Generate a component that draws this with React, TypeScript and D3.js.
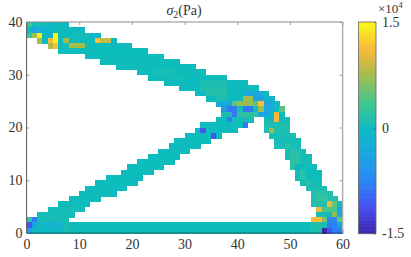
import React, { useRef, useEffect } from 'react';
import * as d3 from 'd3';

const W = 411;
const H = 257;

const xTicks = [0, 10, 20, 30, 40, 50, 60];
const yTicks = [0, 10, 20, 30, 40];
const barTicks = [-1.5, 0, 1.5];
const barTickLabels = ['-1.5', '0', '1.5'];

// colour levels of the bar, bottom to top
const parulaColors = ['#3e26a8', '#4750f0', '#2b86f5', '#1ca6e0', '#0dbbbf', '#45c78f', '#a3bd4e', '#fbb93a', '#f9fb15'];

// stress cells, [row, first col, end col, value in 1e4 Pa]; later entries overwrite earlier ones
const memberCells: number[][] = [
  // top chord
  [39, 0, 8, 0], [38, 0, 11, 0], [37, 0, 14, 0], [36, 2, 17, 0], [35, 4, 20, 0], [34, 6, 23, 0.02],
  [33, 11, 26, 0.02], [32, 14, 29, 0.03], [31, 17, 32, 0.03], [30, 21, 34, 0.03], [29, 23, 38, 0.03],
  [28, 26, 42, 0], [27, 29, 44, 0], [26, 32, 46, 0], [25, 34, 47, 0], [24, 36, 48, 0], [23, 37, 49, 0], [22, 37, 49, 0],
  [21, 36, 43, 0], [21, 45, 50, 0.06], [20, 33, 42, 0.02], [20, 45, 50, 0.1],
  // diagonal strut
  [19, 32, 40, 0.02], [19, 45, 50, 0.1], [18, 30, 37, 0.02], [18, 46, 51, 0.08],
  [17, 28, 35, 0.02], [17, 47, 52, 0.06], [16, 27, 33, 0.02], [16, 47, 52, 0.05],
  [15, 25, 31, 0.02], [15, 49, 53, 0.06], [14, 23, 29, 0.02], [14, 49, 54, 0.06],
  [13, 21, 28, 0.02], [13, 50, 54, 0.06], [12, 19, 26, 0.02], [12, 50, 55, 0.03],
  [11, 18, 24, 0.02], [11, 51, 56, 0.03], [10, 15, 22, 0.02], [10, 51, 56, 0.03],
  [9, 13, 21, 0.02], [9, 52, 56, 0.06], [8, 11, 19, 0.02], [8, 53, 57, 0.1],
  [7, 10, 17, 0.03], [7, 54, 58, 0.13], [6, 8, 14, 0.03], [6, 54, 59, 0.13],
  [5, 6, 12, 0.03], [5, 54, 60, 0.13], [4, 4, 11, 0.05], [4, 55, 60, 0.13],
  [3, 2, 9, 0.07], [3, 55, 60, 0.06], [2, 0, 8, 0.07], [2, 54, 60, 0.1],
  // bottom bar
  [1, 0, 60, 0.03], [0, 0, 60, 0.03],
  // greener patches along the top chord
  [30, 24, 28, 0.08], [29, 27, 30, 0.08], [28, 33, 38, 0.1], [27, 33, 38, 0.13], [26, 34, 38, 0.16], [25, 36, 38, 0.1],
  [37, 9, 12, 0.07],
  // top left corner
  [39, 0, 1, 0.3], [39, 1, 3, 0.06], [38, 1, 2, -0.4], [38, 2, 3, -0.2], [38, 3, 5, -0.1],
  [37, 0, 1, 0.3], [37, 1, 2, 0.75], [37, 2, 3, 1.45], [37, 4, 5, -0.15], [37, 5, 6, 1.45], [37, 12, 14, -0.1],
  [36, 2, 3, 0.75], [36, 4, 5, 1.15], [36, 5, 6, 1.45], [36, 7, 8, 0.75], [36, 13, 14, 1.15], [36, 14, 16, 0.9],
  [35, 4, 5, 0.8], [35, 5, 6, 1.15], [35, 7, 8, 0.07], [35, 8, 11, 0.75],
  // joint at the end of the diagonal
  [26, 41, 45, -0.35], [25, 41, 43, 0.75], [25, 43, 45, -0.4], [25, 45, 47, -0.15],
  [24, 36, 39, -0.3], [24, 39, 40, 0.45], [24, 40, 43, 0.7], [24, 43, 44, 0.45], [24, 44, 45, 1.15], [24, 45, 47, -0.35],
  [23, 37, 38, -0.5], [23, 38, 40, -0.85], [23, 40, 41, 0.07], [23, 41, 43, -0.85], [23, 43, 44, 0.07], [23, 44, 45, 0.7], [23, 45, 47, -0.35], [23, 48, 49, 0.45],
  [22, 37, 39, 0.1], [22, 39, 40, -0.85], [22, 40, 44, 0.22], [22, 44, 46, -0.4], [22, 47, 48, 1.1],
  [21, 38, 39, -0.8], [21, 39, 43, 0.06], [21, 46, 47, -0.2], [21, 47, 48, 1.1], [21, 48, 49, -0.05],
  [20, 41, 42, -0.85], [19, 33, 34, -1.1], [19, 46, 47, 0.75], [18, 35, 36, -1.1],
  // right leg
  [17, 48, 50, 0.06], [16, 49, 50, 0.2], [15, 50, 52, 0.16], [14, 50, 52, 0.2], [13, 50, 52, 0.2],
  [12, 50, 51, 0.2], [12, 51, 52, -0.1], [11, 52, 53, 0.2], [10, 52, 53, 0.2], [9, 53, 54, 0.13],
  // support corner
  [7, 55, 57, 0.2], [6, 55, 57, 0.25], [5, 57, 58, 1.05], [5, 58, 59, 0.5], [5, 59, 60, 0.03],
  [4, 55, 56, 1.05], [4, 56, 59, 0.4], [4, 59, 60, -0.35],
  [3, 57, 58, 0.03], [3, 56, 57, 0.06], [3, 58, 59, 0.7], [3, 59, 60, -0.35],
  [2, 54, 56, 1.15], [2, 56, 57, 0.6], [2, 57, 59, -0.7], [2, 59, 60, 0.5],
  [1, 54, 56, 0.13], [1, 56, 57, 0.1], [1, 57, 59, -0.8], [1, 59, 60, -0.3],
  [0, 54, 56, 0.1], [0, 56, 57, -1.45], [0, 57, 58, -1.1], [0, 58, 60, -0.8],
  // left support
  [2, 0, 1, 0.2], [2, 1, 2, -0.8], [1, 0, 1, -1.1], [1, 1, 2, -0.4], [1, 3, 7, -0.12], [0, 0, 1, -0.4], [0, 1, 7, -0.02], [1, 7, 8, 0.08], [0, 7, 8, 0.1],
];

export default function App() {
  const ref = useRef<SVGSVGElement>(null);

  useEffect(() => {
    const svg = d3.select(ref.current);
    svg.selectAll('*').remove();

    const font = '"Liberation Serif", serif';
    const x = d3.scaleLinear().domain([0, 60]).range([26.6, 342.6]);
    const y = d3.scaleLinear().domain([0, 40]).range([233, 22]);
    const color = d3.scaleLinear<string>()
      .domain(parulaColors.map((_, i) => -1.5 + (3 * i) / (parulaColors.length - 1)))
      .range(parulaColors)
      .interpolate(d3.interpolateRgb);

    // slight softening, the reference is a resampled bitmap
    svg.append('defs').append('filter').attr('id', 'soft')
      .append('feGaussianBlur').attr('stdDeviation', 0.3);

    // axes, box on
    const bottom = svg.append('g')
      .attr('transform', `translate(0,${y(0)})`)
      .call(d3.axisBottom(x).tickValues(xTicks).tickSize(-3).tickPadding(6));
    const left = svg.append('g')
      .attr('transform', `translate(${x(0)},0)`)
      .call(d3.axisLeft(y).tickValues(yTicks).tickSize(-3).tickPadding(4));
    const top = svg.append('g')
      .attr('transform', `translate(0,${y(40)})`)
      .call(d3.axisTop(x).tickValues(xTicks).tickSize(-3).tickFormat(() => ''));
    const right = svg.append('g')
      .attr('transform', `translate(${x(60)},0)`)
      .call(d3.axisRight(y).tickValues(yTicks).tickSize(-3).tickFormat(() => ''));

    [bottom, left, top, right].forEach((g) => {
      g.select('.domain').remove();
      g.selectAll('line').attr('stroke', '#777').attr('stroke-width', 0.7);
      g.selectAll('text').attr('font-family', font).attr('font-size', 14).attr('fill', '#333');
    });

    // collapse the patches to one value per cell
    const cells = new Map<string, { row: number; col: number; value: number }>();
    memberCells.forEach(([row, from, to, value]) => {
      d3.range(from, to).forEach((col) => cells.set(`${row}-${col}`, { row, col, value }));
    });

    svg.append('g')
      .attr('filter', 'url(#soft)')
      .attr('shape-rendering', 'crispEdges')
      .selectAll('rect')
      .data([...cells.values()])
      .join('rect')
      .attr('x', (d) => x(d.col))
      .attr('y', (d) => y(d.row + 1))
      .attr('width', x(1) - x(0) + 0.5)
      .attr('height', y(0) - y(1) + 0.5)
      .attr('fill', (d) => color(d.value));

    const edge = (x1: number, y1: number, x2: number, y2: number, stroke: string, w: number, o = 1) =>
      svg.append('line').attr('x1', x1).attr('y1', y1).attr('x2', x2).attr('y2', y2)
        .attr('stroke', stroke).attr('stroke-width', w).attr('stroke-opacity', o);
    edge(x(0), y(0), x(0), y(40), '#555', 1);
    edge(x(0), y(40), x(60), y(40), '#888', 1);
    edge(x(60), y(40), x(60), y(0), '#aaa', 1.4);
    edge(x(0), y(0), x(60), y(0), '#222', 1, 0.55);

    // title
    const title = svg.append('text')
      .attr('x', 184).attr('y', 14.5)
      .attr('text-anchor', 'middle')
      .attr('font-family', font).attr('font-size', 14).attr('fill', '#333');
    title.append('tspan').attr('font-style', 'italic').text('σ');
    title.append('tspan').attr('font-size', 10).attr('dy', 3).text('2');
    title.append('tspan').attr('dy', -3).text('(Pa)');

    // colorbar
    const barY = d3.scaleLinear().domain([-1.5, 1.5]).range([233.5, 22]);
    const levels = d3.range(64).map((i) => -1.5 + (3 * (i + 0.5)) / 64);
    const step = (barY(-1.5) - barY(1.5)) / 64;
    svg.append('g')
      .selectAll('rect')
      .data(levels)
      .join('rect')
      .attr('x', 358.5)
      .attr('y', (d) => barY(d) - step / 2)
      .attr('width', 17.5)
      .attr('height', step + 0.6)
      .attr('fill', (d) => color(d));
    svg.append('rect')
      .attr('x', 358.5).attr('y', 22).attr('width', 17.5).attr('height', 211.5)
      .attr('fill', 'none').attr('stroke', '#666').attr('stroke-width', 0.8);

    const barAxis = svg.append('g')
      .attr('transform', 'translate(376,0)')
      .call(d3.axisRight(barY).tickValues(barTicks).tickSize(-2).tickPadding(6)
        .tickFormat((_, i) => barTickLabels[i]));
    barAxis.select('.domain').remove();
    barAxis.selectAll('line').attr('stroke', '#555').attr('stroke-width', 0.7);
    barAxis.selectAll('text').attr('font-family', font).attr('font-size', 14).attr('fill', '#333');

    // exponent label
    const exp = svg.append('text')
      .attr('x', 378).attr('y', 13)
      .attr('font-family', font).attr('font-size', 13).attr('fill', '#333');
    exp.append('tspan').text('×10');
    exp.append('tspan').attr('font-size', 9).attr('dy', -5).text('4');
  }, []);

  return (
    <svg
      ref={ref}
      width={W}
      height={H}
      viewBox={`0 0 ${W} ${H}`}
      style={{ position: 'absolute', left: 0, top: 0, background: '#fff' }}
    />
  );
}
